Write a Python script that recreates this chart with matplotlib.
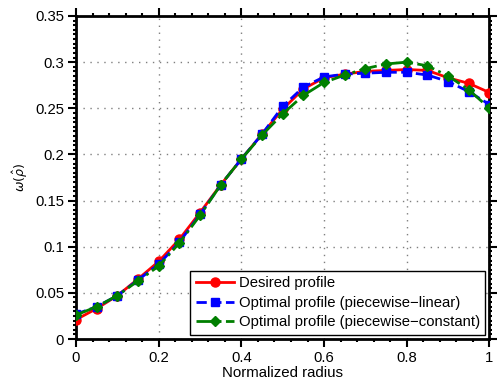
import matplotlib
matplotlib.use("Agg")
import matplotlib.pyplot as plt
from matplotlib.ticker import MultipleLocator
import numpy as np

plt.rcParams['font.family'] = ['Liberation Sans', 'DejaVu Sans']
plt.rcParams['mathtext.fontset'] = 'dejavusans'

radius = [0.0, 0.05, 0.1, 0.15, 0.2, 0.25, 0.3, 0.35, 0.4, 0.45, 0.5,
          0.55, 0.6, 0.65, 0.7, 0.75, 0.8, 0.85, 0.9, 0.95, 1.0]
desired = [0.021, 0.033, 0.047, 0.065, 0.084, 0.108, 0.137, 0.167, 0.195, 0.222, 0.249,
           0.271, 0.283, 0.287, 0.290, 0.291, 0.292, 0.291, 0.283, 0.277, 0.267]
pw_linear = [0.027, 0.035, 0.047, 0.064, 0.081, 0.105, 0.135, 0.167, 0.195, 0.222, 0.252,
             0.273, 0.284, 0.287, 0.288, 0.289, 0.289, 0.286, 0.279, 0.268, 0.254]
pw_constant = [0.026, 0.035, 0.047, 0.063, 0.079, 0.104, 0.134, 0.167, 0.195, 0.221, 0.244,
               0.264, 0.278, 0.286, 0.293, 0.298, 0.300, 0.296, 0.285, 0.270, 0.250]
xticks = [0, 0.2, 0.4, 0.6, 0.8, 1.0]
xticklabels = ['0', '0.2', '0.4', '0.6', '0.8', '1']
yticks = [0, 0.05, 0.1, 0.15, 0.2, 0.25, 0.3, 0.35]
yticklabels = ['0', '0.05', '0.1', '0.15', '0.2', '0.25', '0.3', '0.35']

fig = plt.figure(figsize=(5.01, 3.87), dpi=100)
ax = fig.add_axes([0.1517, 0.124, 0.977 - 0.1517, 0.9587 - 0.124])

ax.plot(radius, desired, '-', color='#ff0000', lw=2, marker='o', ms=6.5,
        label='Desired profile', zorder=3)
ax.plot(radius, pw_linear, '--', color='#0000ff', lw=2, marker='s', ms=6,
        label='Optimal profile (piecewise\u2212linear)', zorder=4)
ax.plot(radius, pw_constant, '-.', color='#007f00', lw=2, marker='D', ms=5.5,
        label='Optimal profile (piecewise\u2212constant)', zorder=5)

ax.set_xlim(0, 1)
ax.set_ylim(0, 0.35)
ax.set_xticks(xticks)
ax.set_xticklabels(xticklabels)
ax.set_yticks(yticks)
ax.set_yticklabels(yticklabels)
ax.xaxis.set_minor_locator(MultipleLocator(0.04))
ax.yaxis.set_minor_locator(MultipleLocator(0.005))

ax.tick_params(which='both', direction='out', top=True, right=True,
               labelsize=10.7, width=1.5)
ax.tick_params(which='major', length=5.5, pad=3)
ax.tick_params(which='minor', length=2.5)
for s in ax.spines.values():
    s.set_linewidth(2)

ax.xaxis.grid(True, which='major', linestyle=(0, (1, 4)), color='#7f7f7f', lw=1)
ax.yaxis.grid(True, which='major', linestyle=(0, (1, 4)), color='#7f7f7f', lw=1)
ax.set_axisbelow(True)

ax.set_xlabel('Normalized radius', fontsize=10.8, labelpad=1)
ax.set_ylabel(r'$\omega(\hat{\rho})$', fontsize=9, labelpad=4)

leg = ax.legend(loc='lower right', fontsize=10.7, frameon=True, fancybox=False,
                edgecolor='black', framealpha=1, borderpad=0.35,
                labelspacing=0.38, handlelength=2.6, handletextpad=0.3,
                borderaxespad=0.3, bbox_to_anchor=(1.0, 0.0))
leg.get_frame().set_linewidth(1)

fig.savefig('out.png', dpi=100)
